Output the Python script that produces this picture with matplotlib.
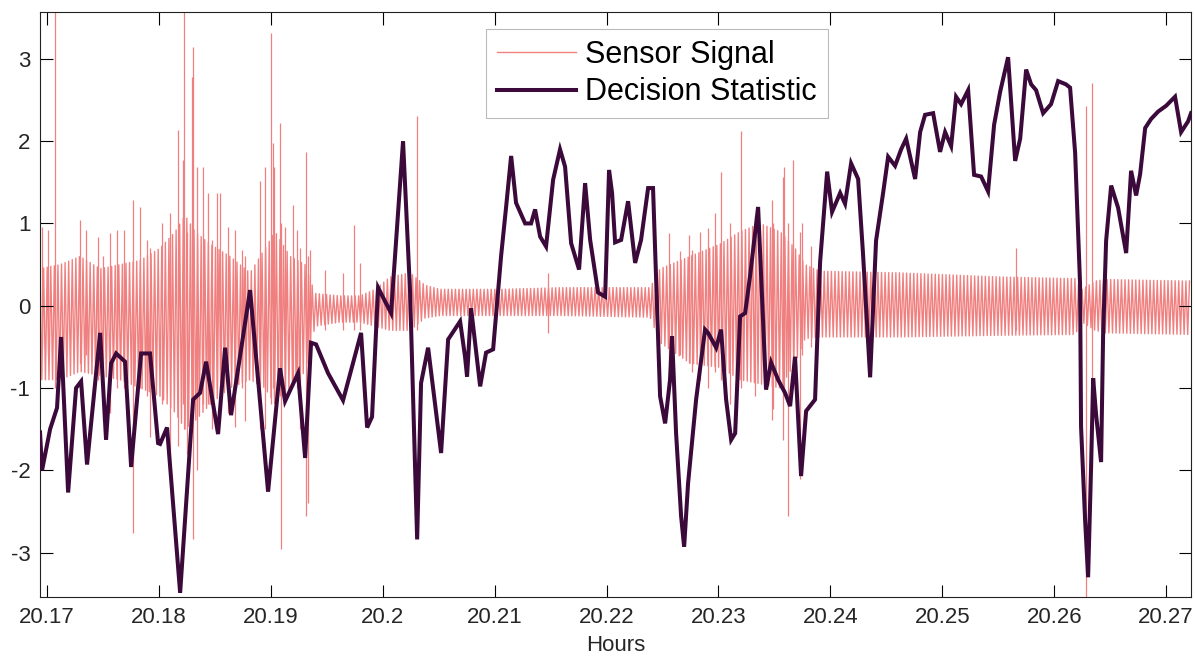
import numpy as np
import matplotlib
matplotlib.use("Agg")
import matplotlib.pyplot as plt

plt.rcParams['font.family'] = ['Liberation Sans', 'DejaVu Sans']
plt.rcParams['axes.unicode_minus'] = False

# decision statistic, sampled along the time axis (hours)
stat_hours = [
    20.16937, 20.16955, 20.17027, 20.17089, 20.17125, 20.17188, 20.17259, 20.17304,
    20.17357, 20.17474, 20.17527, 20.17572, 20.17617, 20.17697, 20.17751, 20.17840,
    20.17920, 20.17992, 20.18010, 20.18072, 20.18189, 20.18305, 20.18367, 20.18421,
    20.18528, 20.18591, 20.18644, 20.18814, 20.18975, 20.19082, 20.19127, 20.19243,
    20.19306, 20.19359, 20.19404, 20.19511, 20.19645, 20.19806, 20.19860, 20.19904,
    20.19958, 20.20074, 20.20181, 20.20244, 20.20307, 20.20342, 20.20405, 20.20521,
    20.20584, 20.20691, 20.20735, 20.20753, 20.20789, 20.20870, 20.20923, 20.20986,
    20.21057, 20.21102, 20.21147, 20.21191, 20.21272, 20.21325, 20.21361, 20.21406,
    20.21459, 20.21522, 20.21584, 20.21629, 20.21683, 20.21754, 20.21808, 20.21853,
    20.21924, 20.21987, 20.22022, 20.22049, 20.22076, 20.22130, 20.22192, 20.22255,
    20.22308, 20.22371, 20.22415, 20.22451, 20.22478, 20.22523, 20.22567, 20.22585,
    20.22621, 20.22666, 20.22693, 20.22728, 20.22800, 20.22880, 20.22907, 20.22979,
    20.23023, 20.23068, 20.23113, 20.23149, 20.23193, 20.23238, 20.23282, 20.23354,
    20.23390, 20.23425, 20.23470, 20.23533, 20.23595, 20.23640, 20.23684, 20.23738,
    20.23783, 20.23863, 20.23908, 20.23971, 20.24015, 20.24087, 20.24131, 20.24185,
    20.24248, 20.24292, 20.24355, 20.24408, 20.24471, 20.24516, 20.24578, 20.24632,
    20.24677, 20.24757, 20.24802, 20.24846, 20.24918, 20.24980, 20.25025, 20.25079,
    20.25123, 20.25168, 20.25231, 20.25284, 20.25347, 20.25409, 20.25463, 20.25517,
    20.25588, 20.25651, 20.25696, 20.25749, 20.25794, 20.25838, 20.25901, 20.25972,
    20.26035, 20.26106, 20.26142, 20.26187, 20.26231, 20.26240, 20.26276, 20.26303,
    20.26330, 20.26348, 20.26374, 20.26419, 20.26437, 20.26464, 20.26509, 20.26571,
    20.26643, 20.26687, 20.26732, 20.26768, 20.26813, 20.26866, 20.26929, 20.27000,
    20.27080, 20.27134, 20.27196, 20.27223,
]
stat_values = [
    -1.54, -2.00, -1.50, -1.24, -0.38, -2.27, -1.00, -0.92,
    -1.93, -0.33, -1.63, -0.70, -0.58, -0.68, -1.96, -0.58,
    -0.58, -1.67, -1.68, -1.48, -3.49, -1.14, -1.06, -0.68,
    -1.56, -0.51, -1.33, 0.19, -2.26, -0.76, -1.16, -0.82,
    -1.85, -0.45, -0.47, -0.82, -1.15, -0.33, -1.48, -1.35,
    0.22, -0.09, 2.00, 0.16, -2.84, -0.94, -0.51, -1.79,
    -0.41, -0.19, -0.62, -0.86, -0.03, -0.98, -0.57, -0.53,
    0.60, 1.20, 1.82, 1.25, 1.00, 1.00, 1.17, 0.84,
    0.72, 1.53, 1.90, 1.69, 0.76, 0.44, 1.49, 0.80,
    0.16, 0.11, 1.65, 1.37, 0.77, 0.80, 1.27, 0.52,
    0.80, 1.43, 1.43, -0.01, -1.10, -1.43, -0.90, -0.37,
    -1.55, -2.56, -2.93, -2.16, -1.14, -0.29, -0.33, -0.51,
    -0.29, -1.14, -1.63, -1.55, -0.13, -0.09, 0.36, 1.20,
    0.07, -1.02, -0.69, -0.90, -1.06, -1.22, -0.62, -2.07,
    -1.28, -1.14, 0.53, 1.63, 1.14, 1.37, 1.24, 1.73,
    1.54, 0.62, -0.87, 0.79, 1.37, 1.81, 1.70, 1.90,
    2.03, 1.54, 2.11, 2.32, 2.34, 1.87, 2.11, 1.94,
    2.54, 2.45, 2.62, 1.59, 1.57, 1.39, 2.20, 2.60,
    3.02, 1.76, 2.03, 2.87, 2.69, 2.62, 2.34, 2.45,
    2.73, 2.69, 2.65, 1.86, 0.27, -1.47, -2.60, -3.30,
    -1.94, -0.88, -1.32, -1.90, -0.36, 0.79, 1.46, 1.19,
    0.64, 1.64, 1.34, 1.60, 2.16, 2.27, 2.36, 2.43,
    2.54, 2.11, 2.24, 2.34,
]

# sensor signal: swing limits of the vibration along the record
env_hours = [
    20.16937, 20.17116, 20.17295, 20.17474, 20.17652, 20.17831, 20.18010, 20.18144,
    20.18233, 20.18323, 20.18457, 20.18635, 20.18814, 20.18948, 20.19038, 20.19172,
    20.19306, 20.19395, 20.19618, 20.19797, 20.19931, 20.20065, 20.20244, 20.20378,
    20.20512, 20.21048, 20.21584, 20.22389, 20.22478, 20.22746, 20.23014, 20.23193,
    20.23372, 20.23551, 20.23684, 20.23774, 20.23908, 20.24623, 20.25517, 20.26187,
    20.26249, 20.26366, 20.26455, 20.27223,
]
env_upper = [
    0.45, 0.50, 0.60, 0.45, 0.50, 0.55, 0.70, 0.90,
    1.10, 0.90, 0.75, 0.60, 0.40, 0.70, 0.90, 0.60,
    0.50, 0.15, 0.12, 0.12, 0.20, 0.35, 0.40, 0.25,
    0.20, 0.20, 0.22, 0.22, 0.45, 0.60, 0.75, 0.90,
    1.00, 0.90, 0.70, 0.50, 0.42, 0.40, 0.35, 0.33,
    0.20, 0.30, 0.32, 0.30,
]
env_lower = [
    -0.90, -0.90, -0.80, -0.85, -0.90, -1.00, -1.10, -1.30,
    -1.50, -1.40, -1.20, -1.00, -0.90, -1.00, -1.20, -1.00,
    -0.80, -0.25, -0.20, -0.20, -0.25, -0.30, -0.30, -0.15,
    -0.12, -0.12, -0.12, -0.14, -0.45, -0.70, -0.75, -0.90,
    -0.95, -1.00, -0.70, -0.40, -0.38, -0.38, -0.36, -0.35,
    -0.20, -0.30, -0.33, -0.35,
]

# isolated bursts in the sensor signal
spike_hours = [
    20.16955, 20.17009, 20.17071, 20.17295, 20.17349, 20.17456, 20.17500, 20.17563,
    20.17626, 20.17688, 20.17769, 20.17831, 20.17894, 20.17920, 20.18028, 20.18099,
    20.18171, 20.18215, 20.18224, 20.18251, 20.18296, 20.18305, 20.18340, 20.18394,
    20.18439, 20.18475, 20.18519, 20.18546, 20.18617, 20.18680, 20.18743, 20.18769,
    20.18903, 20.18948, 20.19002, 20.19020, 20.19029, 20.19082, 20.19091, 20.19127,
    20.19198, 20.19234, 20.19261, 20.19315, 20.19332, 20.19350, 20.19484, 20.19645,
    20.19744, 20.19797, 20.20307, 20.21477, 20.22554, 20.22657, 20.22737, 20.22764,
    20.22836, 20.22907, 20.22970, 20.23023, 20.23104, 20.23202, 20.23327, 20.23479,
    20.23488, 20.23577, 20.23586, 20.23622, 20.23667, 20.23729, 20.23747, 20.23828,
    20.25660, 20.26285, 20.26339,
]
spike_top = [
    0.96, 0.92, 3.60, 1.04, 0.92, 0.84, 0.60, 0.88,
    0.92, 0.92, 1.29, 1.20, 0.80, 0.70, 1.00, 1.13,
    2.14, 1.77, 3.60, 0.90, 2.78, 3.15, 1.69, 1.69,
    1.37, 0.80, 1.37, 1.37, 0.96, 0.92, 0.68, 0.60,
    1.51, 1.69, 3.32, 1.98, 1.69, 2.22, 1.00, 0.96,
    1.23, 0.92, 0.70, 1.87, 0.60, 0.68, 0.44, 0.40,
    0.98, 0.52, 2.30, 0.40, 0.88, 0.66, 0.86, 0.68,
    0.90, 0.95, 1.13, 1.63, 1.00, 2.12, 1.10, 1.29,
    1.00, 1.57, 1.68, 1.00, 1.77, 0.90, 1.00, 0.72,
    0.70, 2.43, 2.71,
]
spike_bottom = [
    -0.50, -0.60, -1.00, -0.70, -0.60, -0.90, -1.40, -1.30,
    -1.00, -1.00, -2.76, -1.00, -1.10, -1.60, -1.20, -1.90,
    -1.70, -1.20, -1.50, -1.80, -1.30, -2.84, -2.00, -1.20,
    -1.20, -1.50, -1.00, -1.10, -1.30, -1.47, -1.00, -1.40,
    -1.50, -1.50, -1.20, -1.00, -1.10, -1.10, -2.96, -1.20,
    -0.90, -1.00, -1.50, -2.56, -2.40, -0.60, -0.30, -0.30,
    -0.30, -0.30, -0.30, -0.33, -0.70, -0.60, -0.70, -0.80,
    -0.90, -1.00, -0.80, -0.90, -1.20, -1.00, -1.10, -1.39,
    -1.26, -1.63, -1.00, -2.56, -1.00, -2.10, -0.60, -0.50,
    -0.30, -3.55, -1.00,
]

SENSOR_COLOR = '#f08080'
STAT_COLOR = '#3b0a3b'


def sensor_trace(half_period=0.00016):
    # swing back and forth between the upper and lower limits
    t = np.arange(env_hours[0], env_hours[-1], half_period)
    hi = np.interp(t, env_hours, env_upper)
    lo = np.interp(t, env_hours, env_lower)
    y = np.where(np.arange(len(t)) % 2 == 0, hi, lo)
    return t, y


def main():
    fig = plt.figure(figsize=(11.95, 6.58), dpi=100)
    ax = fig.add_axes([0.0335, 0.0927, 0.9632, 0.8891])

    t, y = sensor_trace()
    ax.plot(t, y, color=SENSOR_COLOR, lw=1.0, label='Sensor Signal', zorder=1)
    ax.vlines(spike_hours, spike_bottom, spike_top, color=SENSOR_COLOR, lw=0.9, zorder=1)
    ax.plot(stat_hours, stat_values, color=STAT_COLOR, lw=2.9,
            solid_joinstyle='miter', label='Decision Statistic', zorder=3)

    ax.set_xlim(20.16937, 20.27223)
    ax.set_ylim(-3.54, 3.57)
    ax.set_xticks([20.17, 20.18, 20.19, 20.2, 20.21, 20.22, 20.23, 20.24, 20.25, 20.26, 20.27])
    ax.set_xticklabels(['20.17', '20.18', '20.19', '20.2', '20.21', '20.22', '20.23',
                        '20.24', '20.25', '20.26', '20.27'])
    ax.set_yticks([-3, -2, -1, 0, 1, 2, 3])
    ax.set_yticklabels(['-3', '-2', '-1', '0', '1', '2', '3'])
    ax.tick_params(direction='in', length=9, width=0.8, top=True, right=True,
                   labelsize=16, labelcolor='#262626', pad=7)
    for side in ax.spines.values():
        side.set_linewidth(0.8)
        side.set_color('#222222')

    ax.set_xlabel('Hours', fontsize=16, color='#262626', labelpad=5)

    leg = ax.legend(loc='upper left', bbox_to_anchor=(0.3875, 0.971), borderaxespad=0,
                    fontsize=22, handlelength=2.6, handletextpad=0.3, borderpad=0.35,
                    labelspacing=0.25, fancybox=False, framealpha=1)
    leg.get_frame().set_edgecolor('#bbbbbb')
    leg.get_frame().set_linewidth(0.8)

    fig.savefig('out.png', dpi=100, facecolor='white')


if __name__ == '__main__':
    main()
